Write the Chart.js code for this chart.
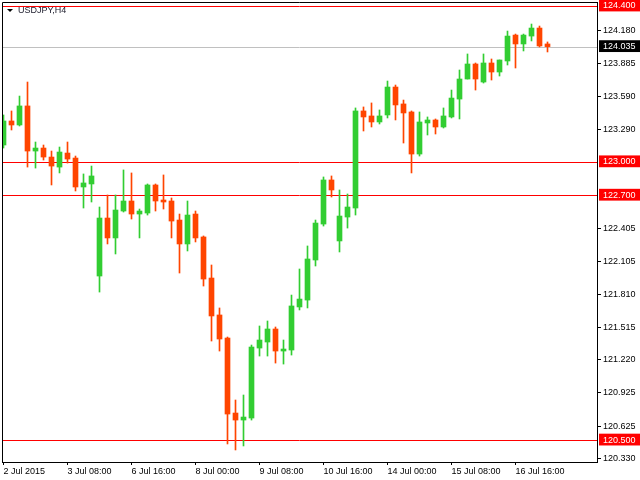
<!DOCTYPE html>
<html>
<head>
<meta charset="utf-8">
<script src="https://cdn.jsdelivr.net/npm/chart.js@4.4.1/dist/chart.umd.min.js"></script>
<style>
  html, body { margin: 0; padding: 0; background: #fff; }
  canvas { display: block; }
</style>
</head>
<body>
<canvas id="usdjpy" width="640" height="480"></canvas>
<script>
// USDJPY H4 candles
const opens  = [123.151,123.367,123.331,123.502,123.097,123.124,123.043,122.953,123.079,123.034,
                122.774,122.801,121.974,122.495,122.316,122.558,122.648,122.531,122.540,122.792,
                122.657,122.648,122.477,122.262,122.531,122.325,121.956,121.624,121.417,120.743,
                120.680,120.698,121.327,121.381,121.498,121.300,121.309,121.696,121.758,122.118,
                122.441,122.837,122.289,122.504,122.585,123.457,123.412,123.358,123.421,123.672,
                123.520,123.448,123.070,123.349,123.376,123.313,123.403,123.564,123.744,123.879,
                123.717,123.888,123.807,123.906,124.139,124.059,124.130,124.202,124.059];
const highs  = [123.421,123.457,123.591,123.717,123.178,123.151,123.097,123.133,123.178,123.052,
                122.891,122.962,122.594,122.702,122.702,122.927,122.900,122.576,122.801,122.801,
                122.882,122.675,122.531,122.648,122.558,122.334,122.073,121.687,121.426,120.860,
                120.905,121.354,121.525,121.570,121.516,121.399,121.803,122.037,122.244,122.477,
                122.864,122.873,122.747,122.711,123.484,123.493,123.529,123.466,123.726,123.690,
                123.555,123.457,123.448,123.403,123.385,123.484,123.645,123.825,123.969,123.888,
                123.969,123.924,123.915,124.175,124.148,124.148,124.238,124.220,124.077];
const lows   = [123.124,123.286,123.322,122.953,122.944,123.016,122.792,122.900,122.989,122.738,
                122.585,122.639,121.830,122.262,122.172,122.549,122.486,122.316,122.522,122.558,
                122.576,122.316,122.001,122.199,122.280,121.884,121.390,121.300,120.465,120.411,
                120.447,120.680,121.255,121.255,121.192,121.183,121.264,121.669,121.687,122.064,
                122.423,122.684,122.190,122.405,122.522,123.277,123.313,123.340,123.394,123.376,
                123.169,122.900,123.052,123.241,123.250,123.304,123.394,123.385,123.744,123.645,
                123.708,123.735,123.771,123.870,123.843,123.996,124.086,124.032,123.987];
const closes = [123.367,123.331,123.502,123.097,123.124,123.043,122.962,123.088,123.025,122.774,
                122.810,122.873,122.495,122.316,122.567,122.648,122.531,122.558,122.792,122.648,
                122.639,122.468,122.262,122.522,122.316,121.947,121.615,121.408,120.734,120.680,
                120.707,121.336,121.399,121.498,121.300,121.318,121.705,121.767,122.127,122.450,
                122.837,122.747,122.513,122.594,123.457,123.403,123.358,123.412,123.672,123.511,
                123.439,123.070,123.358,123.376,123.313,123.412,123.573,123.744,123.879,123.744,
                123.888,123.807,123.915,124.130,124.059,124.139,124.202,124.041,124.035];

// time axis labels, one every 8 bars
const timeTicks  = [0, 8, 16, 24, 32, 40, 48, 56, 64];
const timeLabels = ["2 Jul 2015","3 Jul 08:00","6 Jul 16:00","8 Jul 00:00","9 Jul 08:00",
                    "10 Jul 16:00","14 Jul 00:00","15 Jul 08:00","16 Jul 16:00"];

// price scale labels
const priceTicks = [124.180,123.885,123.590,123.290,122.405,122.105,121.810,121.515,121.220,120.925,120.625,120.330];
const levels     = [124.400,123.000,122.700,120.500];   // red horizontal lines
const lastPrice  = 124.035;                             // grey bid line

//------------------------------------------

const UP = '#32cd32', DOWN = '#ff4500';
const FONT = {family: "'Liberation Sans', Arial, sans-serif", size: 9};

const idx = opens.map((v, i) => i);
const bodies = idx.map(i => ({x: i, y: [opens[i], closes[i]]}));
const wicks  = idx.map(i => ({x: i, y: [lows[i], highs[i]]}));
const candleColor = ctx => closes[ctx.dataIndex] >= opens[ctx.dataIndex] ? UP : DOWN;

const isLevel = v => levels.some(l => Math.abs(l - v) < 1e-6);
const isLast  = v => Math.abs(v - lastPrice) < 1e-6;

//level lines, drawn under the candles
const levelLines = {
  id: 'levelLines',
  beforeDatasetsDraw(chart) {
    const {ctx, chartArea: {left, right}, scales: {y}} = chart;
    ctx.save();
    ctx.lineWidth = 1;
    ctx.strokeStyle = '#c0c0c0';
    let py = Math.round(y.getPixelForValue(lastPrice)) + 0.5;
    ctx.beginPath(); ctx.moveTo(left, py); ctx.lineTo(right, py); ctx.stroke();
    ctx.strokeStyle = '#ff0000';
    levels.forEach(l => {
      py = Math.round(y.getPixelForValue(l)) + 0.5;
      ctx.beginPath(); ctx.moveTo(left, py); ctx.lineTo(right, py); ctx.stroke();
    });
    ctx.restore();
  }
};

//frame + symbol caption
const frame = {
  id: 'frame',
  afterDraw(chart) {
    const {ctx, chartArea: {top, bottom, left, right}} = chart;
    ctx.save();
    ctx.strokeStyle = '#000';
    ctx.lineWidth = 1;
    ctx.beginPath();
    ctx.moveTo(left + 0.5, bottom); ctx.lineTo(left + 0.5, top + 0.5); ctx.lineTo(right, top + 0.5);
    ctx.stroke();
    ctx.fillStyle = '#000';
    ctx.beginPath(); ctx.moveTo(7, 9); ctx.lineTo(13, 9); ctx.lineTo(10, 12); ctx.closePath(); ctx.fill();
    ctx.font = FONT.size + 'px ' + FONT.family;
    ctx.textBaseline = 'middle';
    ctx.fillStyle = '#1a1a2a';
    ctx.fillText('USDJPY,H4', 18, 11);
    ctx.restore();
  }
};

//------------------------------------------

const config = {
  type: 'bar',
  data: {
    datasets: [
      {data: bodies, backgroundColor: candleColor, barThickness: 5, grouped: false, borderWidth: 0},
      {data: wicks,  backgroundColor: candleColor, barThickness: 1, grouped: false, borderWidth: 0}
    ]
  },
  options: {
    responsive: false,
    animation: false,
    layout: {padding: {left: 2, top: 2, right: 0, bottom: 0}},
    plugins: {legend: {display: false}, tooltip: {enabled: false}},
    scales: {
      x: {
        type: 'linear',
        offset: false,
        min: -0.1875,
        max: 74.1875,
        afterBuildTicks: s => { s.ticks = timeTicks.map(v => ({value: v})); },
        afterFit: s => { s.height = 18; s.paddingLeft = 0; s.paddingRight = 0; },
        grid: {offset: false, drawOnChartArea: false, drawTicks: true, tickLength: 3, tickColor: '#000'},
        border: {color: '#000', width: 1},
        ticks: {
          autoSkip: false, maxRotation: 0, align: 'start', padding: 1,
          color: '#000', font: FONT,
          callback: v => timeLabels[timeTicks.indexOf(v)]
        }
      },
      y: {
        position: 'right',
        min: 120.303,
        max: 124.436,
        afterBuildTicks: s => {
          s.ticks = priceTicks.concat(levels, [lastPrice]).sort((a, b) => b - a).map(v => ({value: v}));
        },
        afterFit: s => { s.width = 43; s.paddingTop = 0; s.paddingBottom = 0; },
        grid: {
          drawOnChartArea: false, tickLength: 4,
          tickColor: c => (isLevel(c.tick.value) || isLast(c.tick.value)) ? 'rgba(0,0,0,0)' : '#000'
        },
        border: {color: '#000', width: 1},
        ticks: {
          autoSkip: false, padding: 2, font: FONT,
          color: c => (isLevel(c.tick.value) || isLast(c.tick.value)) ? '#fff' : '#000',
          showLabelBackdrop: c => isLevel(c.tick.value) || isLast(c.tick.value),
          backdropColor: c => isLast(c.tick.value) ? '#000' : '#ff0000',
          backdropPadding: {left: 4, right: 8, top: 1, bottom: 0},
          callback: v => v.toFixed(3)
        }
      }
    }
  },
  plugins: [levelLines, frame]
};

const usdjpy = new Chart(document.getElementById('usdjpy'), config);
</script>
</body>
</html>
